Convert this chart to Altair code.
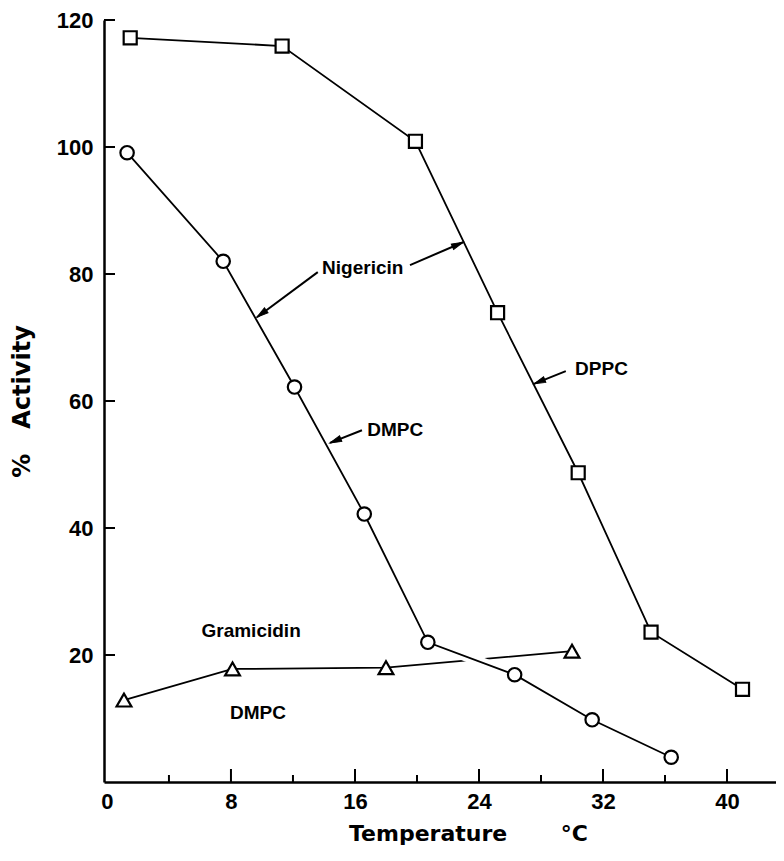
import math
import altair as alt
import pandas as pd

# ---------------- data ----------------
dppc_temp = [1.5, 11.3, 19.9, 25.2, 30.4, 35.1, 41.0]
dppc_act = [117.2, 115.9, 100.9, 73.9, 48.7, 23.6, 14.6]

dmpc_temp = [1.3, 7.5, 12.1, 16.6, 20.7, 26.3, 31.3, 36.4]
dmpc_act = [99.1, 82.0, 62.2, 42.2, 22.0, 16.9, 9.8, 3.9]

gram_temp = [1.1, 8.1, 18.0, 30.0]
gram_act = [12.9, 17.8, 18.0, 20.6]

x_tick_labels = [0, 8, 16, 24, 32, 40]
x_minor_ticks = [4, 12, 20, 28, 36]
x_major_ticks = [8, 16, 24, 32, 40]
y_tick_labels = [20, 40, 60, 80, 100, 120]

label_text = ["Nigericin", "DMPC", "DPPC", "Gramicidin", "DMPC"]
label_x = [16.5, 18.6, 31.9, 9.3, 9.74]
label_y = [80.9, 55.4, 65.0, 23.8, 10.9]

arrow_tail_x = [13.6, 19.55, 16.45, 29.6]
arrow_tail_y = [80.3, 81.4, 55.4, 64.7]
arrow_tip_x = [9.68, 22.97, 14.39, 27.55]
arrow_tip_y = [73.2, 85.0, 53.4, 62.7]

# ---------------- layout ----------------
W, H = 672, 762
X_DOMAIN = [-0.19, 43.16]
Y_DOMAIN = [0, 120]
px_x = W / (X_DOMAIN[1] - X_DOMAIN[0])
px_y = H / (Y_DOMAIN[1] - Y_DOMAIN[0])

xs = alt.Scale(domain=X_DOMAIN, nice=False, zero=False)
ys = alt.Scale(domain=Y_DOMAIN, nice=False, zero=False)

NB = "\u00a0"
xaxis = alt.Axis(
    values=x_tick_labels, ticks=False, grid=False, domainWidth=2.5,
    domainColor="black", labelFont="Liberation Sans", labelFontSize=22,
    labelFontWeight="bold", labelColor="black", labelPadding=9,
    labelFlush=False, title="Temperature" + NB * 7 + "°C",
    titleFont="DejaVu Sans", titleFontSize=22, titleFontWeight="bold",
    titleColor="black", titleX=364, titleY=58, titleBaseline="alphabetic",
)
yaxis = alt.Axis(
    values=y_tick_labels, ticks=False, grid=False, domainWidth=2.5,
    domainColor="black", labelFont="Liberation Sans", labelFontSize=22,
    labelFontWeight="bold", labelColor="black", labelPadding=11,
    labelFlush=False, title="%" + NB * 3 + "Activity",
    titleFont="DejaVu Sans", titleFontSize=24, titleFontWeight="bold",
    titleColor="black", titleX=-82, titleY=381, titleBaseline="middle",
)

def X(f):
    return alt.X(f, type="quantitative", scale=xs, axis=xaxis)

def Y(f):
    return alt.Y(f, type="quantitative", scale=ys, axis=yaxis)

dppc = pd.DataFrame({"t": dppc_temp, "a": dppc_act})
dmpc = pd.DataFrame({"t": dmpc_temp, "a": dmpc_act})
gram = pd.DataFrame({"t": gram_temp, "a": gram_act})

labels = pd.DataFrame({"text": label_text, "x": label_x, "y": label_y})

angles = []
for tx, ty, hx, hy in zip(arrow_tail_x, arrow_tail_y, arrow_tip_x, arrow_tip_y):
    dx = (hx - tx) * px_x
    dy = -(hy - ty) * px_y
    angles.append(math.degrees(math.atan2(dx, -dy)) % 360)
arrows = pd.DataFrame({"x": arrow_tail_x, "y": arrow_tail_y,
                       "x2": arrow_tip_x, "y2": arrow_tip_y, "ang": angles})

line_w = 1.8

gram_line = alt.Chart(gram).mark_line(color="black", strokeWidth=line_w).encode(x=X("t"), y=Y("a"))
dmpc_halo = alt.Chart(dmpc).mark_line(color="white", strokeWidth=10).encode(x=X("t"), y=Y("a"))
dmpc_line = alt.Chart(dmpc).mark_line(color="black", strokeWidth=line_w).encode(x=X("t"), y=Y("a"))
dppc_line = alt.Chart(dppc).mark_line(color="black", strokeWidth=line_w).encode(x=X("t"), y=Y("a"))

dppc_pts = alt.Chart(dppc).mark_point(shape="square", size=170, filled=True, fill="white",
                                       stroke="black", strokeWidth=2.2, opacity=1).encode(x=X("t"), y=Y("a"))
dmpc_pts = alt.Chart(dmpc).mark_point(shape="circle", size=180, filled=True, fill="white",
                                       stroke="black", strokeWidth=2.2, opacity=1).encode(x=X("t"), y=Y("a"))
gram_pts = alt.Chart(gram).mark_point(shape="triangle-up", size=220, filled=True, fill="white",
                                       stroke="black", strokeWidth=2.2, opacity=1).encode(x=X("t"), y=Y("a"))

arrow_shafts = alt.Chart(arrows).mark_rule(color="black", strokeWidth=2).encode(
    x=X("x"), y=Y("y"), x2="x2", y2="y2")
arrow_heads = alt.Chart(arrows).mark_point(
    shape="M0,0 L0.6,2.3 L-0.6,2.3 Z", size=100, filled=True, fill="black",
    stroke="black", strokeWidth=1, opacity=1).encode(
    x=X("x2"), y=Y("y2"), angle=alt.Angle("ang:Q", scale=None))

texts = alt.Chart(labels).mark_text(font="Liberation Sans", fontSize=19, fontWeight="bold",
                                    color="black").encode(x=X("x"), y=Y("y"), text="text:N")

yt = pd.DataFrame({"v": y_tick_labels})
xmaj = pd.DataFrame({"v": x_major_ticks})
xmin = pd.DataFrame({"v": x_minor_ticks})
y_ticks = alt.Chart(yt).mark_rule(color="black", strokeWidth=2).encode(
    y=Y("v"), x=alt.value(0), x2=alt.value(11))
x_major = alt.Chart(xmaj).mark_rule(color="black", strokeWidth=2).encode(
    x=X("v"), y=alt.value(H), y2=alt.value(H - 13))
x_minor = alt.Chart(xmin).mark_rule(color="black", strokeWidth=2).encode(
    x=X("v"), y=alt.value(H), y2=alt.value(H - 7))

chart = alt.layer(
    gram_line, dmpc_halo, dmpc_line, dppc_line,
    arrow_shafts, arrow_heads,
    dppc_pts, dmpc_pts, gram_pts,
    texts, y_ticks, x_major, x_minor,
).properties(
    width=W, height=H,
    autosize=alt.AutoSizeParams(type="none"),
    padding={"left": 96, "top": 12, "right": 0, "bottom": 66},
    background="white",
).configure_view(stroke=None)

chart.save("out.html", embed_options={"renderer": "svg", "actions": False})
